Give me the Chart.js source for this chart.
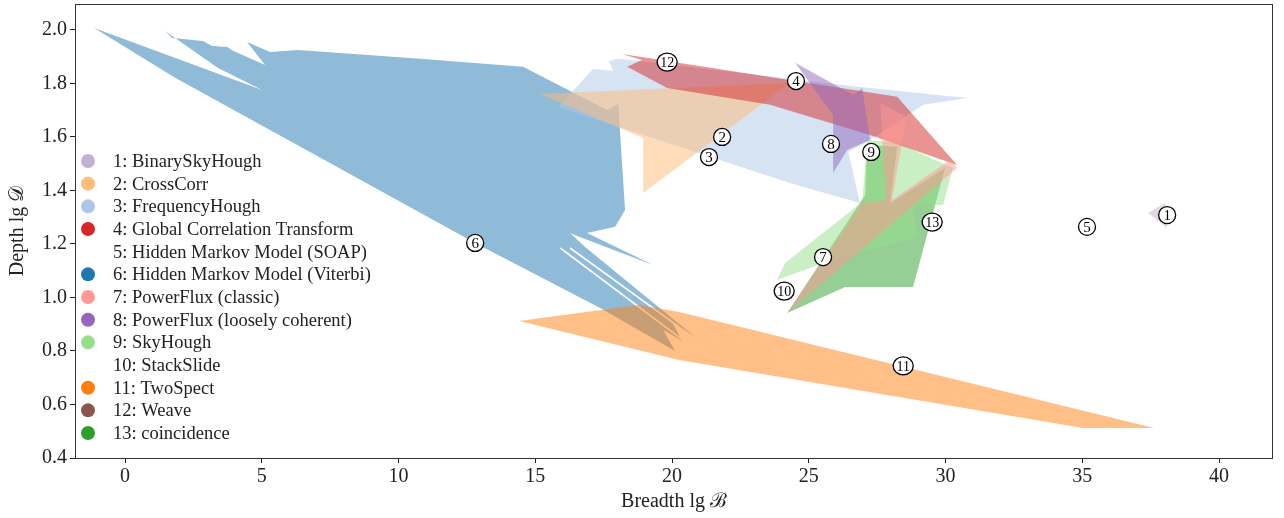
<!DOCTYPE html>
<html>
<head>
<meta charset="utf-8">
<script src="https://cdn.jsdelivr.net/npm/chart.js@4.4.1/dist/chart.umd.min.js"></script>
<style>
  html, body { margin: 0; padding: 0; background: #fff; }
</style>
</head>
<body>
<canvas id="chart" width="1284" height="518"></canvas>
<script>
// method names, in legend order
const methods = [
  '1: BinarySkyHough', '2: CrossCorr', '3: FrequencyHough', '4: Global Correlation Transform',
  '5: Hidden Markov Model (SOAP)', '6: Hidden Markov Model (Viterbi)', '7: PowerFlux (classic)',
  '8: PowerFlux (loosely coherent)', '9: SkyHough', '10: StackSlide', '11: TwoSpect',
  '12: Weave', '13: coincidence'
];
const colors = ['#c5b0d5', '#ffbb78', '#aec7e8', '#d62728', null, '#1f77b4', '#ff9896',
  '#9467bd', '#98df8a', null, '#ff7f0e', '#8c564b', '#2ca02c'];

// regions as [breadth, depth] corners (lg B, lg D)
const binarySkyHough = [[37.40, 1.316], [38.03, 1.353], [38.10, 1.260]];
const crossCorr = [[15.17, 1.761], [24.31, 1.802], [18.94, 1.391], [18.94, 1.596]];
const frequencyHough = [[15.83, 1.712], [17.11, 1.854], [17.84, 1.847], [17.70, 1.884], [18.03, 1.892],
  [26.87, 1.787], [30.79, 1.746], [29.18, 1.720], [27.24, 1.589], [26.44, 1.544], [26.87, 1.353], [24.31, 1.428]];
const globalCorrelation = [[18.17, 1.910], [28.23, 1.750], [30.42, 1.495], [27.24, 1.607], [23.58, 1.720],
  [19.82, 1.783], [18.36, 1.862], [18.90, 1.888]];
const hmmSoap = [];
const hmmViterbi = [[-1.13, 2.007], [5.01, 1.776], [3.40, 1.858], [1.46, 1.996], [1.72, 1.970], [2.85, 1.959],
  [3.18, 1.940], [3.73, 1.936], [5.96, 1.791], [3.80, 1.929], [5.12, 1.869], [4.46, 1.955], [5.30, 1.918],
  [6.33, 1.925], [10.79, 1.892], [14.55, 1.862], [17.62, 1.701], [18.03, 1.723], [18.28, 1.327],
  [17.92, 1.264], [16.89, 1.241], [19.31, 1.121], [16.53, 1.230], [16.27, 1.241], [16.82, 1.189],
  [20.84, 0.852], [20.00, 0.908], [20.37, 0.837], [19.67, 0.879], [20.11, 0.800], [17.44, 0.957],
  [12.80, 1.204], [1.83, 1.821]];
const viterbiGaps = [
  [[15.91, 1.185], [20.40, 0.841]],
  [[16.27, 1.185], [20.77, 0.852]]
];
const powerFluxClassic = [[24.21, 0.942], [26.95, 1.353], [27.82, 1.364], [27.61, 1.727], [28.56, 1.675],
  [28.04, 1.364], [30.17, 1.514], [30.42, 1.484]];
const powerFluxLoose = [[24.50, 1.877], [26.62, 1.757], [26.95, 1.783], [27.24, 1.589], [26.40, 1.551],
  [25.89, 1.465], [25.89, 1.682]];
const skyHough = [[23.84, 1.065], [24.13, 1.129], [26.95, 1.357], [27.13, 1.589], [28.23, 1.578],
  [30.27, 1.484], [29.91, 1.346], [28.81, 1.346], [28.96, 1.226], [27.24, 1.178], [25.52, 1.129]];
const stackSlide = [];
const twoSpect = [[14.41, 0.912], [18.76, 0.972], [20.26, 0.946], [37.62, 0.512], [35.03, 0.512], [20.26, 0.766]];
const weave = [[20.18, 1.869], [20.91, 1.850], [20.70, 1.857]];
const coincidence = [[24.21, 0.942], [27.06, 1.383], [27.13, 1.570], [28.23, 1.563], [27.97, 1.353],
  [29.98, 1.484], [28.81, 1.039], [26.33, 1.039]];

const shapes = [binarySkyHough, crossCorr, frequencyHough, globalCorrelation, hmmSoap, hmmViterbi,
  powerFluxClassic, powerFluxLoose, skyHough, stackSlide, twoSpect, weave, coincidence];

// stacking of the regions, bottom first (method numbers)
const drawOrder = [6, 11, 3, 13, 9, 2, 4, 7, 8, 1, 12];

// where the circled numbers sit
const labelX = [38.10, 21.83, 21.35, 24.53, 35.17, 12.80, 25.52, 25.81, 27.28, 24.10, 28.45, 19.82, 29.51];
const labelY = [1.308, 1.600, 1.525, 1.809, 1.264, 1.204, 1.151, 1.574, 1.544, 1.024, 0.744, 1.880, 1.282];

const xTicks = [0, 5, 10, 15, 20, 25, 30, 35, 40];
const yTicks = [0.4, 0.6, 0.8, 1.0, 1.2, 1.4, 1.6, 1.8, 2.0];

const serif = '"Liberation Serif", "DejaVu Serif", serif';

function rgba(hex, a) {
  const n = parseInt(hex.slice(1), 16);
  return `rgba(${n >> 16}, ${(n >> 8) & 255}, ${n & 255}, ${a})`;
}
const toPoints = pts => pts.map(([x, y]) => ({ x, y }));

const datasets = [];
drawOrder.forEach((num, k) => {
  const i = num - 1;
  const pts = shapes[i];
  if (!pts.length || !colors[i]) return;
  datasets.push({
    label: methods[i],
    data: toPoints(pts.concat([pts[0]])),
    backgroundColor: rgba(colors[i], 0.5),
    borderColor: 'rgba(0,0,0,0)',
    borderWidth: 0,
    fill: 'shape',
    pointRadius: 0,
    tension: 0,
    order: 100 - k * 2   // lower order is painted later
  });
  if (num === 6) {
    // thin cuts inside the Viterbi region
    viterbiGaps.forEach(g => datasets.push({
      data: toPoints(g), borderColor: '#ffffff', borderWidth: 1.6, fill: false,
      pointRadius: 0, order: 100 - k * 2 - 1
    }));
  }
});

const overlay = {
  id: 'overlay',
  afterDatasetsDraw(chart) {
    const { ctx, chartArea: a, scales: { x, y } } = chart;
    ctx.save();
    // frame
    ctx.strokeStyle = '#333';
    ctx.lineWidth = 1;
    ctx.strokeRect(a.left + 0.5, a.top + 0.5, a.right - a.left - 1, a.bottom - a.top);

    // circled numbers
    ctx.textAlign = 'center';
    ctx.textBaseline = 'middle';
    labelX.forEach((lx, i) => {
      const px = x.getPixelForValue(lx), py = y.getPixelForValue(labelY[i]);
      const txt = String(i + 1);
      const rx = txt.length > 1 ? 10 : 8.5, ry = txt.length > 1 ? 9 : 8.5;
      ctx.beginPath();
      ctx.ellipse(px, py, rx, ry, 0, 0, Math.PI * 2);
      ctx.fillStyle = '#fff';
      ctx.fill();
      ctx.lineWidth = 1.3;
      ctx.strokeStyle = '#000';
      ctx.stroke();
      ctx.fillStyle = '#000';
      ctx.font = (txt.length > 1 ? '14px ' : '15px ') + serif;
      ctx.fillText(txt, px, py + 1);
    });

    // legend
    ctx.textAlign = 'left';
    ctx.font = '18.5px ' + serif;
    methods.forEach((m, i) => {
      const ly = a.top + 157 + i * 22.67;
      if (colors[i]) {
        ctx.beginPath();
        ctx.arc(88, ly, 7, 0, Math.PI * 2);
        ctx.fillStyle = colors[i];
        ctx.fill();
      }
      ctx.fillStyle = '#222';
      ctx.fillText(m, 113, ly + 1);
    });
    ctx.restore();
  }
};

new Chart(document.getElementById('chart'), {
  type: 'line',
  data: { datasets },
  options: {
    responsive: false,
    animation: false,
    events: [],
    layout: { autoPadding: false, padding: { top: 4, right: 11, left: 0, bottom: 0 } },
    plugins: { legend: { display: false }, tooltip: { enabled: false } },
    scales: {
      x: {
        type: 'linear',
        min: -1.83,
        max: 41.97,
        afterFit: s => { s.height = 60; s.paddingLeft = 0; s.paddingRight = 0; },
        afterBuildTicks: s => { s.ticks = xTicks.map(v => ({ value: v })); },
        border: { display: false },
        grid: { drawOnChartArea: false, drawTicks: true, tickLength: 5, color: '#222' },
        ticks: { color: '#222', padding: 2, font: { family: serif, size: 20 }, maxRotation: 0 },
        title: { display: true, text: 'Breadth lg ℬ', color: '#222', font: { family: serif, size: 20 }, padding: { top: 0, bottom: 4 } }
      },
      y: {
        type: 'linear',
        min: 0.4,
        max: 2.097,
        afterFit: s => { s.width = 75; s.paddingTop = 0; s.paddingBottom = 0; },
        afterBuildTicks: s => { s.ticks = yTicks.map(v => ({ value: v })); },
        border: { display: false },
        grid: { drawOnChartArea: false, drawTicks: true, tickLength: 5, color: '#222' },
        ticks: { color: '#222', padding: 3, font: { family: serif, size: 20 }, callback: v => v.toFixed(1) },
        title: { display: true, text: 'Depth lg 𝒟', color: '#222', font: { family: serif, size: 20 }, padding: { top: 6, bottom: 0 } }
      }
    }
  },
  plugins: [overlay]
});
</script>
</body>
</html>
